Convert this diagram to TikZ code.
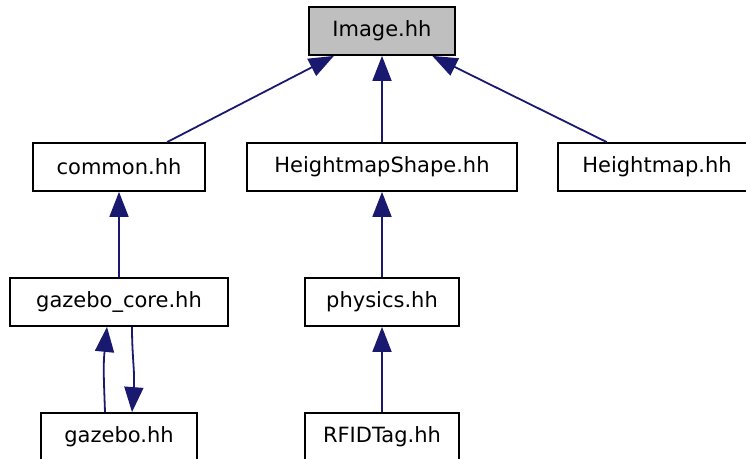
\documentclass[tikz,border=0pt]{standalone}
\usepackage{fontspec}
\setmainfont{DejaVu Sans}
\usetikzlibrary{arrows.meta}
\definecolor{edgeblue}{HTML}{191970}
\definecolor{graybox}{HTML}{BFBFBF}
\tikzset{
  box/.style={draw=black, line width=1.8pt, minimum height=48pt, inner sep=0pt,
    font=\fontsize{21pt}{25pt}\selectfont, text=black},
  edge/.style={draw=edgeblue, line width=1.8pt,
    {Triangle[length=25pt,width=19pt]}-},
}
\begin{document}
\begin{tikzpicture}[x=1pt,y=-1pt]
\useasboundingbox (0,0) rectangle (746,458);
\node[box, fill=graybox, minimum width=146pt] (img) at (382,31) {Image.hh};
\node[box, minimum width=172pt] (common) at (119,167) {common.hh};
\node[box, minimum width=270pt] (hms) at (382,167) {HeightmapShape.hh};
\node[box, minimum width=198pt] (hm) at (657,167) {Heightmap.hh};
\node[box, minimum width=218pt] (core) at (119,302) {gazebo\_core.hh};
\node[box, minimum width=154pt] (phys) at (382,302) {physics.hh};
\node[box, minimum width=156pt] (gz) at (119,437) {gazebo.hh};
\node[box, minimum width=154pt] (rfid) at (382,437) {RFIDTag.hh};

\draw[edge] (img) -- (common);
\draw[edge] (img) -- (hms);
\draw[edge] (img) -- (hm);
\draw[edge] (common) -- (core);
\draw[edge] (hms) -- (phys);
\draw[edge] (phys) -- (rfid);
\draw[edge] ([xshift=-12pt]core.south) .. controls ++(-4,40) and ++(-1,-30) .. ([xshift=-14pt]gz.north);
\draw[edge] ([xshift=13pt]gz.north) .. controls ++(3,-40) and ++(0,30) .. ([xshift=13pt]core.south);
\end{tikzpicture}
\end{document}
